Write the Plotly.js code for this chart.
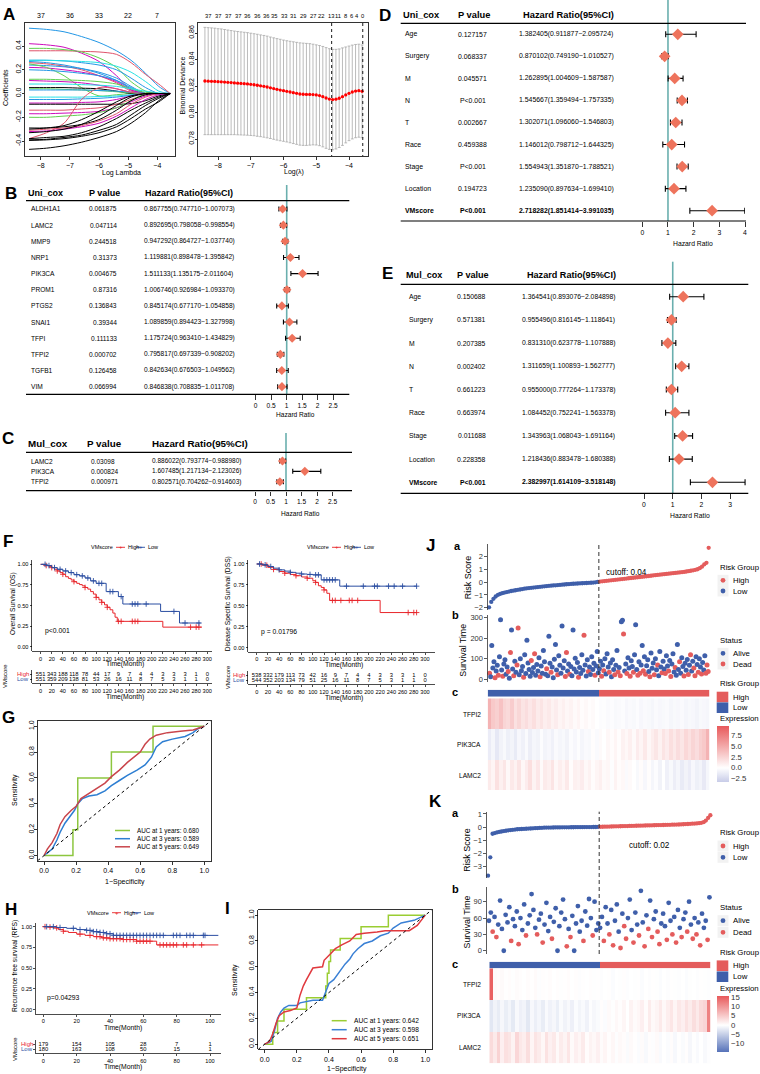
<!DOCTYPE html>
<html><head><meta charset="utf-8">
<script src="https://cdn.plot.ly/plotly-3.0.1.min.js"></script>
<style>html,body{margin:0;padding:0;background:#fff}#chart{width:760px;height:1074px}</style>
</head><body><div id="chart"></div>
<script>
// ================= DATA =================
// A (left): LASSO coefficient paths
const LASSO_LOGLAMBDA = [-8.4,-7.8,-7.2,-6.6,-6.0,-5.4,-4.9,-4.4,-3.95,-3.56];
const LASSO_COEFS = [
 [0.55,0.54,0.52,0.48,0.43,0.36,0.28,0.17,0.06,0],
 [0.36,0.36,0.36,0.355,0.35,0.33,0.26,0.16,0.08,0],
 [0.42,0.41,0.39,0.34,0.27,0.15,0.03,0,0,0],
 [0.38,0.38,0.37,0.35,0.30,0.22,0.10,0.02,0,0],
 [0.28,0.28,0.275,0.26,0.24,0.20,0.13,0.05,0,0],
 [0.28,0.28,0.275,0.27,0.26,0.23,0.18,0.10,0.02,0],
 [0.27,0.26,0.24,0.21,0.17,0.11,0.04,0,0,0],
 [0.26,0.25,0.23,0.20,0.15,0.09,0.02,0,0,0],
 [0.24,0.235,0.225,0.21,0.18,0.13,0.06,0,0,0],
 [0.22,0.215,0.20,0.18,0.15,0.10,0.03,0,0,0],
 [0.25,0.22,0.15,0.05,-0.02,-0.01,0,0,0,0],
 [0.20,0.195,0.185,0.17,0.15,0.11,0.05,0,0,0],
 [0.12,0.12,0.115,0.11,0.10,0.08,0.04,0.01,0,0],
 [0.11,0.105,0.10,0.09,0.07,0.04,0.01,0,0,0],
 [0.08,0.08,0.08,0.075,0.07,0.06,0.04,0.02,0.005,0],
 [0.05,0.05,0.05,0.045,0.04,0.02,0,0,0,0],
 [0.04,0.04,0.035,0.03,0.025,0.015,0.005,0,0,0],
 [0.03,0.03,0.03,0.03,0.025,0.02,0.01,0,0,0],
 [-0.03,-0.03,-0.03,-0.03,-0.025,-0.02,-0.01,0,0,0],
 [-0.05,-0.05,-0.05,-0.045,-0.04,-0.03,-0.015,-0.005,0,0],
 [-0.08,-0.08,-0.08,-0.075,-0.07,-0.05,-0.02,0,0,0],
 [-0.09,-0.09,-0.09,-0.09,-0.09,-0.09,-0.085,-0.06,-0.02,0],
 [-0.14,-0.14,-0.14,-0.13,-0.12,-0.09,-0.05,-0.01,0,0],
 [-0.17,-0.17,-0.165,-0.16,-0.15,-0.12,-0.07,-0.02,0,0],
 [-0.20,-0.20,-0.19,-0.18,-0.16,-0.12,-0.06,0,0,0],
 [-0.38,-0.33,-0.25,-0.05,0.05,0.04,0.01,0,0,0],
 [-0.29,-0.29,-0.28,-0.26,-0.22,-0.14,-0.06,-0.01,0,0],
 [-0.31,-0.30,-0.29,-0.27,-0.23,-0.17,-0.09,-0.03,0,0],
 [-0.32,-0.315,-0.30,-0.28,-0.25,-0.19,-0.12,-0.05,-0.01,0],
 [-0.38,-0.37,-0.36,-0.33,-0.28,-0.21,-0.14,-0.08,-0.03,0],
 [-0.39,-0.385,-0.37,-0.35,-0.31,-0.26,-0.18,-0.10,-0.04,0],
 [-0.395,-0.39,-0.38,-0.36,-0.33,-0.28,-0.21,-0.13,-0.07,0],
 [-0.47,-0.46,-0.44,-0.41,-0.37,-0.32,-0.25,-0.16,-0.06,0],
 [-0.30,-0.29,-0.27,-0.22,-0.15,-0.07,-0.02,0,0,0],
 [-0.33,-0.32,-0.30,-0.26,-0.19,-0.10,-0.03,0,0,0]
];
const LASSO_DF_AT = [-8,-7,-6,-5,-4];
const LASSO_DF_LABELS = ['37','36','33','22','7'];

// A (right): cross-validated binomial deviance
const CV_LOGLAMBDA = [-8.4,-8.3,-8.2,-8.1,-8.0,-7.9,-7.8,-7.7,-7.6,-7.5,-7.4,-7.3,-7.2,-7.1,-7.0,-6.9,-6.8,-6.7,-6.6,-6.5,-6.4,-6.3,-6.2,-6.1,-6.0,-5.9,-5.8,-5.7,-5.6,-5.5,-5.4,-5.3,-5.2,-5.1,-5.0,-4.9,-4.8,-4.7,-4.6,-4.5,-4.4,-4.3,-4.2,-4.1,-4.0,-3.9,-3.8,-3.7,-3.6];
const CV_DEVIANCE = [0.8238,0.8237,0.8236,0.8235,0.8233,0.8232,0.8230,0.8228,0.8226,0.8224,0.8222,0.8220,0.8218,0.8216,0.8213,0.8210,0.8206,0.8202,0.8198,0.8193,0.8187,0.8181,0.8175,0.8170,0.8165,0.8160,0.8155,0.8150,0.8145,0.8140,0.8138,0.8137,0.8137,0.8136,0.8133,0.8128,0.8120,0.8110,0.8102,0.8098,0.8101,0.8108,0.8120,0.8133,0.8145,0.8155,0.8162,0.8165,0.8160];
const CV_SD = [0.0405,0.0404,0.0403,0.0402,0.0400,0.0399,0.0397,0.0395,0.0393,0.0391,0.0390,0.0389,0.0388,0.0387,0.0386,0.0385,0.0385,0.0384,0.0384,0.0384,0.0383,0.0383,0.0383,0.0383,0.0382,0.0382,0.0383,0.0384,0.0385,0.0386,0.0386,0.0385,0.0383,0.0380,0.0378,0.0378,0.0379,0.0380,0.0380,0.0379,0.0376,0.0372,0.0368,0.0362,0.0357,0.0354,0.0352,0.0351,0.0350];
const CV_DF_AT = [-8.3,-8.0,-7.7,-7.4,-7.1,-6.8,-6.55,-6.3,-6.0,-5.7,-5.4,-5.1,-4.85,-4.55,-4.33,-4.12,-3.93,-3.75,-3.58];
const CV_DF_LABELS = ['37','37','37','37','36','36','36','35','33','31','29','27','22','13','11','8','6','4','0'];
const CV_LAMBDA_MIN = -4.53, CV_LAMBDA_1SE = -3.58;

// B: univariate Cox (genes)
const B_NAMES = ['ALDH1A1','LAMC2','MMP9','NRP1','PIK3CA','PROM1','PTGS2','SNAI1','TFPI','TFPI2','TGFB1','VIM'];
const B_P = ['0.061875','0.047114','0.244518','0.31373','0.004675','0.87316','0.136843','0.39344','0.111133','0.000702','0.126458','0.066994'];
const B_HR = [0.867755,0.892695,0.947292,1.119881,1.511133,1.006746,0.845174,1.089859,1.175724,0.795817,0.842634,0.846838];
const B_LO = [0.747710,0.798058,0.864727,0.898478,1.135175,0.926984,0.677170,0.894423,0.963410,0.697339,0.676503,0.708835];
const B_HI = [1.007073,0.998554,1.037740,1.395842,2.011604,1.093370,1.054858,1.327998,1.434829,0.908202,1.049562,1.011708];
// C: multivariate Cox (genes)
const C_NAMES = ['LAMC2','PIK3CA','TFPI2'];
const C_P = ['0.03098','0.000824','0.000971'];
const C_HR = [0.886022,1.607485,0.802571];
const C_LO = [0.793774,1.217134,0.704262];
const C_HI = [0.988980,2.123026,0.914603];
// D: univariate Cox (clinical)
const D_NAMES = ['Age','Surgery','M','N','T','Race','Stage','Location','VMscore'];
const D_P = ['0.127157','0.068337','0.045571','P<0.001','0.002667','0.459388','P<0.001','0.194723','P<0.001'];
const D_HR = [1.382405,0.870102,1.262895,1.545667,1.302071,1.146012,1.554943,1.235090,2.718282];
const D_LO = [0.911877,0.749190,1.004609,1.359494,1.096060,0.798712,1.351870,0.897634,1.851414];
const D_HI = [2.095724,1.010527,1.587587,1.757335,1.546803,1.644325,1.788521,1.699410,3.991035];
// E: multivariate Cox (clinical)
const E_NAMES = ['Age','Surgery','M','N','T','Race','Stage','Location','VMscore'];
const E_P = ['0.150688','0.571381','0.207385','0.002402','0.661223','0.663974','0.011688','0.228358','P<0.001'];
const E_HR = [1.364541,0.955496,0.831310,1.311659,0.955000,1.084452,1.343963,1.218436,2.382997];
const E_LO = [0.893076,0.816145,0.623778,1.100893,0.777264,0.752241,1.068043,0.883478,1.614109];
const E_HI = [2.084898,1.118641,1.107888,1.562777,1.173378,1.563378,1.691164,1.680388,3.518148];

// F: Kaplan-Meier OS and DSS
const RISK_TIMES_F = [0,20,40,60,80,100,120,140,160,180,200,220,240,260,280,300];
const OS_HIGH_T = [0,5,10,15,20,25,30,35,40,45,50,55,60,65,70,75,80,85,90,95,100,105,110,115,120,125,130,134,138,220,290];
const OS_HIGH_S = [1,0.995,0.985,0.975,0.96,0.94,0.92,0.90,0.88,0.85,0.83,0.81,0.79,0.77,0.755,0.74,0.72,0.70,0.67,0.64,0.60,0.57,0.54,0.51,0.48,0.45,0.41,0.36,0.31,0.24,0.24];
const OS_LOW_T = [0,10,20,30,40,50,60,70,80,90,100,115,118,135,140,148,216,250,288];
const OS_LOW_S = [1,0.985,0.96,0.94,0.92,0.90,0.875,0.86,0.835,0.80,0.77,0.77,0.67,0.67,0.61,0.52,0.43,0.29,0.29];
const OS_HIGH_CENSOR = [10,20,30,40,60,80,100,110,120,140,145,165,170,175,270,280,285];
const OS_LOW_CENSOR = [8,15,25,35,45,55,65,75,85,95,105,110,125,130,145,165,170,175,190,240,260,285];
const OS_RISK_HIGH = [551,343,188,118,78,44,17,9,7,4,4,3,3,3,1,0];
const OS_RISK_LOW = [551,359,209,138,81,53,26,16,11,8,7,5,3,1,1,0];
const DSS_HIGH_T = [0,10,20,30,40,50,60,70,80,90,100,105,110,115,120,125,130,220,285];
const DSS_HIGH_S = [1,0.985,0.96,0.935,0.91,0.89,0.875,0.86,0.845,0.83,0.80,0.78,0.74,0.72,0.69,0.65,0.565,0.42,0.42];
const DSS_LOW_T = [0,10,20,30,40,50,60,70,80,90,100,115,148,285];
const DSS_LOW_S = [1,0.99,0.97,0.95,0.93,0.915,0.90,0.89,0.88,0.875,0.87,0.81,0.735,0.735];
const DSS_HIGH_CENSOR = [8,18,30,50,70,90,105,120,135,140,150,165,170,180,270,280,285];
const DSS_LOW_CENSOR = [5,15,25,40,60,80,95,105,110,120,125,130,135,140,160,190,210,215,235,245,260,285];
const DSS_RISK_HIGH = [538,332,179,113,73,42,16,9,7,4,4,3,3,3,1,0];
const DSS_RISK_LOW = [544,352,203,134,79,51,25,16,11,8,7,5,3,1,1,0];

// G: time-dependent ROC
const G_1Y_FPR = [0,0.18,0.18,0.21,0.21,0.42,0.42,0.68,0.68,1];
const G_1Y_TPR = [0,0,0.2,0.2,0.6,0.6,0.8,0.8,1,1];
const G_3Y_FPR = [0,0.02,0.05,0.08,0.10,0.13,0.16,0.19,0.21,0.24,0.28,0.33,0.38,0.42,0.47,0.52,0.58,0.63,0.67,0.70,0.74,0.80,0.88,0.93,0.96,1];
const G_3Y_TPR = [0,0.02,0.05,0.12,0.18,0.25,0.30,0.35,0.40,0.44,0.46,0.47,0.50,0.54,0.58,0.62,0.66,0.70,0.76,0.84,0.88,0.90,0.92,0.95,0.98,1];
const G_5Y_FPR = [0,0.02,0.05,0.08,0.10,0.13,0.17,0.20,0.23,0.28,0.33,0.38,0.42,0.47,0.52,0.57,0.60,0.63,0.66,0.70,0.77,0.85,0.93,1];
const G_5Y_TPR = [0,0.05,0.10,0.17,0.24,0.30,0.35,0.38,0.44,0.48,0.52,0.56,0.61,0.66,0.72,0.77,0.80,0.86,0.90,0.93,0.95,0.96,0.97,1];
const G_AUC = ['AUC at 1 years: 0.680','AUC at 3 years: 0.589','AUC at 5 years: 0.649'];

// H: Kaplan-Meier RFS
const RISK_TIMES_H = [0,20,40,60,80,100];
const RFS_HIGH_T = [0,3,6,9,12,15,20,25,30,35,40,48,56,68,105];
const RFS_HIGH_S = [1,0.995,0.985,0.965,0.945,0.93,0.91,0.895,0.88,0.865,0.855,0.845,0.825,0.78,0.78];
const RFS_LOW_T = [0,8,14,20,26,30,34,38,42,105];
const RFS_LOW_S = [1,0.99,0.98,0.965,0.955,0.94,0.93,0.915,0.895,0.895];
const RFS_HIGH_CENSOR = [1,4,8,12,22,28,32,34,36,38,40,42,44,46,48,50,52,54,56,58,60,62,64,70,72,74,76,78,80,84,86,90,95];
const RFS_LOW_CENSOR = [2,6,10,18,22,26,28,30,32,34,36,38,40,42,44,46,48,50,52,54,56,58,60,62,64,66,68,70,72,78,80,82,86,88,90,96,97];
const RFS_RISK_HIGH = [179,154,105,28,7,1];
const RFS_RISK_LOW = [180,163,108,50,15,1];

// I: time-dependent ROC (validation)
const I_1Y_FPR = [0,0.05,0.05,0.08,0.08,0.12,0.12,0.26,0.26,0.38,0.38,0.39,0.39,0.40,0.40,0.41,0.41,0.47,0.47,0.60,0.60,0.77,0.77,1];
const I_1Y_TPR = [0,0,0.09,0.09,0.18,0.18,0.27,0.27,0.36,0.36,0.45,0.45,0.55,0.55,0.64,0.64,0.73,0.73,0.82,0.82,0.91,0.91,1,1];
const I_3Y_FPR = [0,0.04,0.06,0.08,0.10,0.12,0.15,0.20,0.22,0.30,0.36,0.38,0.40,0.43,0.46,0.48,0.50,0.53,0.55,0.58,0.62,0.67,0.72,0.77,0.80,0.85,0.93,1];
const I_3Y_TPR = [0,0.02,0.10,0.20,0.25,0.28,0.30,0.30,0.32,0.34,0.34,0.40,0.47,0.50,0.55,0.58,0.62,0.66,0.70,0.74,0.78,0.80,0.84,0.86,0.90,0.94,0.96,1];
const I_5Y_FPR = [0,0.03,0.05,0.07,0.09,0.12,0.16,0.20,0.22,0.24,0.26,0.28,0.30,0.36,0.37,0.41,0.44,0.48,0.53,0.57,0.62,0.70,0.75,0.80,0.90,0.95,1];
const I_5Y_TPR = [0,0.02,0.08,0.16,0.22,0.25,0.26,0.28,0.38,0.45,0.50,0.55,0.59,0.60,0.65,0.70,0.74,0.77,0.80,0.85,0.86,0.87,0.88,0.88,0.88,0.92,1];
const I_AUC = ['AUC at 1 years: 0.642','AUC at 3 years: 0.598','AUC at 5 years: 0.651'];

// J: risk score / survival / heatmap (training)
const J_CUTOFF = 0.04;
const J_RISK = [
 -1.97,-1.55,-1.30,-1.12,-1.00,-0.92,-0.86,-0.81,-0.77,-0.73,
 -0.69,-0.66,-0.63,-0.60,-0.57,-0.54,-0.51,-0.48,-0.46,-0.44,
 -0.42,-0.40,-0.38,-0.36,-0.34,-0.32,-0.30,-0.28,-0.27,-0.25,
 -0.24,-0.22,-0.21,-0.19,-0.18,-0.16,-0.15,-0.13,-0.12,-0.11,
 -0.10,-0.09,-0.08,-0.07,-0.06,-0.05,-0.04,-0.03,-0.01,0.02,
 0.05,0.07,0.09,0.11,0.13,0.15,0.17,0.19,0.21,0.23,
 0.25,0.27,0.29,0.31,0.33,0.35,0.37,0.39,0.41,0.43,
 0.45,0.47,0.49,0.51,0.53,0.55,0.57,0.59,0.61,0.63,
 0.65,0.67,0.69,0.71,0.73,0.75,0.77,0.79,0.81,0.84,
 0.87,0.90,0.93,0.97,1.02,1.10,1.22,1.40,1.52,2.70];
const J_TIME = [
 30,12,165,55,85,8,40,68,20,110,290,45,15,75,95,25,60,38,5,130,
 240,50,18,88,35,70,250,22,100,42,62,10,120,28,190,80,48,15,92,33,
 58,125,20,72,40,105,12,65,30,140,85,25,52,18,210,78,35,60,8,98,
 170,45,22,115,68,30,260,55,90,14,130,40,75,25,62,18,240,50,102,36,
 82,10,58,28,120,44,215,70,16,95,38,60,24,110,48,78,20,65,135,32,
 52,88,15,70,42,100,26,125,60,34,80,12,95,48,22,68,140,36,58,18,
 280,288,220,40,75,28,105,55,15,90,62,35,120,265,48,20,85,30,70,165,
 42,110,25,66,95,38,12,128,54,80,22,100,46,70,18,135,60,32,88,50,
 28,115,65,40,92,14,75,125,36,58,20,170,48,85,30,105,62,16,78,44,
 96,24,68,120,40,88,55,18,110,72,34,100,60,26,82,45,115,30,70,38];
const J_STATUS = [
 1,0,0,0,0,1,0,0,1,0,0,0,1,0,0,0,0,1,0,1,
 0,0,1,0,0,1,1,0,0,0,0,1,0,0,0,0,0,0,1,0,
 0,1,0,0,0,0,1,0,0,0,0,0,1,0,0,0,1,0,0,0,
 0,0,1,0,0,0,0,0,0,1,1,0,0,1,0,0,0,0,0,0,
 0,1,0,0,0,0,1,0,0,0,1,0,0,0,0,0,1,0,0,0,
 0,0,1,0,1,0,0,0,0,1,0,0,0,0,1,0,0,1,0,1,
 0,0,1,0,0,1,0,0,1,0,0,1,0,0,0,1,0,1,0,0,
 1,0,1,0,0,0,1,0,0,0,1,0,0,1,0,0,0,1,0,0,
 1,0,0,1,0,1,0,0,0,1,0,0,0,1,0,0,0,1,0,0,
 0,1,0,1,0,0,1,1,0,0,1,0,0,1,0,0,0,1,1,1];
const HEAT_GENES = ['TFPI2','PIK3CA','LAMC2'];
const RISK_GROUPS = ['Low','High'];
const J_HM_TFPI2 = [4.5,3.2,2.8,3.6,2.5,2.2,3.0,1.8,2.4,1.6,2.0,1.4,1.9,1.2,1.6,1.0,1.3,0.8,1.1,0.6,0.9,0.5,0.7,0.3,0.6,0.2,0.4,0.1,0.3,0.0,-0.2,-0.1,-0.3,-0.2,-0.4,-0.3,-0.2,-0.5,-0.3,-0.4,-0.2,-0.5,-0.3,-0.4,-0.6,-0.3,-0.5,-0.4,-0.3,-0.6,-0.4,-0.5,-0.3,-0.6,-0.4,-0.5,-0.7,-0.4,-0.5,-0.6];
const J_HM_PIK3CA = [-1.2,-0.6,-1.5,-0.8,-0.4,-1.0,-0.7,-1.3,-0.5,-0.9,-0.3,-1.1,-0.6,-0.8,-0.2,-0.7,-0.5,-0.9,-0.3,-0.6,-0.4,-0.8,-0.2,-0.5,-0.1,-0.6,-0.3,-0.4,0.1,-0.3,0.3,0.0,0.5,0.2,0.6,0.1,0.8,0.4,0.9,0.3,1.1,0.6,1.3,0.5,1.0,1.5,0.8,1.6,1.1,1.9,1.3,2.0,1.5,2.3,1.8,2.5,2.0,2.8,3.2,4.5];
const J_HM_LAMC2 = [1.2,0.6,1.8,0.9,1.5,0.4,1.3,0.8,1.6,0.5,1.1,1.9,0.7,1.4,0.3,1.2,0.9,1.6,0.5,1.0,0.6,1.3,0.2,0.9,0.7,1.1,0.4,0.8,0.2,0.6,0.9,0.3,0.5,-0.1,0.7,0.2,0.4,-0.3,0.3,0.0,-0.4,0.2,-0.5,0.1,-0.6,-0.2,-0.8,0.0,-0.9,-0.4,-1.1,-0.6,-1.3,-0.8,-1.2,-0.5,-1.0,-0.7,-1.4,-0.6];

// K: risk score / survival / heatmap (validation)
const K_CUTOFF = 0.02;
const K_RISK = [
 -3.67,-2.28,-0.50,-0.45,-0.40,-0.36,-0.33,-0.30,-0.27,-0.24,
 -0.22,-0.20,-0.18,-0.16,-0.15,-0.14,-0.13,-0.12,-0.11,-0.10,
 -0.09,-0.08,-0.07,-0.06,-0.05,-0.04,-0.035,-0.03,-0.028,-0.025,
 -0.022,-0.02,-0.018,-0.015,-0.013,-0.011,-0.009,-0.007,-0.005,-0.003,
 -0.001,0.0,0.002,0.004,0.006,0.008,0.010,0.012,0.014,0.016,
 0.025,0.03,0.035,0.04,0.045,0.05,0.055,0.06,0.065,0.07,
 0.075,0.08,0.085,0.09,0.095,0.10,0.105,0.11,0.115,0.12,
 0.125,0.13,0.135,0.14,0.145,0.15,0.155,0.16,0.165,0.17,
 0.175,0.18,0.185,0.19,0.195,0.20,0.21,0.22,0.23,0.24,
 0.25,0.26,0.27,0.28,0.30,0.33,0.38,0.50,0.70,0.90];
const K_TIME = [
 55,70,35,62,25,48,92,40,0,66, 52,80,18,58,45,72,12,60,38,85,
 28,50,65,104,75,42,30,57,68,15, 48,88,36,62,22,53,78,0,45,70,
 94,58,8,40,25,64,0,50,82,35, 55,18,72,46,95,60,28,90,38,50,
 42,62,18,80,50,30,75,10,55,85, 35,5,68,45,22,60,94,38,15,70,
 48,28,110,52,8,65,40,92,25,58, 72,35,12,50,68,45,20,88,55,30,
 62,15,75,42,25,58,70,35,90,48, 22,60,30,52,10,68,42,55,20,98];
const K_STATUS = [
 0,0,1,0,1,0,0,0,0,0, 0,0,1,0,0,0,1,0,0,0,
 1,0,0,0,0,0,1,0,0,1, 0,0,0,0,1,0,0,0,0,0,
 0,0,1,0,1,0,0,0,0,0, 0,1,0,0,0,0,1,0,0,0,
 0,0,1,0,0,1,0,1,0,0, 0,1,0,1,1,0,0,0,1,0,
 0,1,0,0,1,0,1,0,1,0, 0,1,1,0,0,0,1,0,0,1,
 0,1,0,0,1,0,0,1,0,0, 1,0,1,0,1,0,0,0,1,0];
const K_HM_TFPI2 = [15,0.4,0.2,0.5,0.1,0.3,-0.1,0.4,0.2,0.0,0.3,0.1,0.5,-0.2,0.2,0.1,0.3,0.0,0.2,-0.1,0.1,0.3,0.0,0.2,-0.2,0.1,0.0,0.2,-0.1,0.1,-0.2,0.0,0.1,-0.3,0.0,-0.1,0.2,-0.2,0.0,-0.1,0.1,-0.3,0.0,-0.2,0.1,-0.1,-0.3,0.0,-0.2,0.1,-0.1,-0.2,0.0,-0.3,-0.1,0.0,-0.2,0.1,-0.1,-0.2];
const K_HM_PIK3CA = [-2.5,-1.2,-2.0,-0.8,-1.8,-1.0,-2.2,-0.6,-1.5,-1.1,-2.4,-0.7,-1.6,-0.9,-1.9,-0.5,-1.3,-0.8,-1.7,-0.4,-1.2,-0.6,-1.5,-0.3,-1.0,-0.5,-1.3,-0.2,-0.8,-0.4,0.2,-0.3,0.5,-0.1,0.7,0.2,0.9,0.0,1.2,0.4,0.8,1.5,0.3,1.8,0.6,1.1,2.0,0.7,1.6,2.4,1.0,2.2,1.5,2.8,1.8,3.2,2.0,3.5,4.0,12];
const K_HM_LAMC2 = [3.5,2.0,4.2,1.5,3.0,2.5,1.2,3.8,2.2,1.6,3.2,1.0,2.6,1.9,0.8,2.8,1.4,2.1,0.6,1.8,1.1,2.4,0.5,1.5,0.9,1.9,0.3,1.2,0.7,1.4,0.4,1.0,0.2,0.8,-0.2,0.6,0.3,-0.4,0.5,0.1,-0.3,0.4,-0.6,0.2,-0.2,0.5,-0.5,0.0,-0.3,0.3,-0.7,0.1,-0.4,0.2,-0.8,-0.1,-0.5,0.0,-0.6,-0.2];

// ================= STYLE =================
const W=760,H=1074;
const X=p=>p/W, Y=p=>1-p/H;
const FONT='Liberation Sans, Arial, Helvetica, sans-serif';
const LASSO_PALETTE=['#000000','#DF536B','#61D04F','#2297E6','#28E2E5','#CD0BBC'];
const LASSO_COLOR_IDX=[3,1,5,2,3,4,3,1,3,5,2,3,2,5,4,0,2,3,4,3,5,0,1,5,2,1,0,1,5,0,0,0,0,0,0];
const KM_RED='#E8262B', KM_BLUE='#2B4EA2';
const FOREST_PT='#EE735C', TEAL='#6AAFAE';
const J_RED='#E45C5C', J_BLUE='#3F5FAA';

const layout={width:W,height:H,margin:{l:0,r:0,t:0,b:0},paper_bgcolor:'#fff',plot_bgcolor:'rgba(0,0,0,0)',
  showlegend:false,font:{family:FONT,color:'#000',size:7},annotations:[],shapes:[],hovermode:false};
const traces=[];

function addAxes(n,xpx,ypx,xr,yr,xo,yo){
  const s=n===1?'':String(n);
  layout['xaxis'+s]=Object.assign({domain:[X(xpx[0]),X(xpx[1])],range:xr,anchor:'y'+s,showgrid:false,zeroline:false,fixedrange:true,tickangle:0},xo||{});
  layout['yaxis'+s]=Object.assign({domain:[Y(ypx[1]),Y(ypx[0])],range:yr,anchor:'x'+s,showgrid:false,zeroline:false,fixedrange:true},yo||{});
  return {xa:'x'+s,ya:'y'+s};
}
function T(x,y,text,size,o){
  o=o||{};
  const a={xref:o.xref||'paper',yref:o.yref||'paper',x:o.xref?x:X(x),y:o.yref?y:Y(y),
    text:o.bold?'<b>'+text+'</b>':text,showarrow:false,xanchor:o.xa||'center',yanchor:o.ya||'middle',
    font:{family:FONT,size:size,color:o.color||'#000'},borderpad:0};
  if(o.angle!==undefined)a.textangle=o.angle;
  layout.annotations.push(a);
}
function L(x0,y0,x1,y1,color,width,dash,refs){
  refs=refs||{};
  layout.shapes.push({type:'line',layer:refs.layer||'above',xref:refs.xref||'paper',yref:refs.yref||'paper',
    x0:refs.xref?x0:X(x0),x1:refs.xref?x1:X(x1),y0:refs.yref?y0:Y(y0),y1:refs.yref?y1:Y(y1),
    line:{color:color,width:width,dash:dash||'solid'}});
}
function R(x0,y0,x1,y1,fill){
  layout.shapes.push({type:'rect',xref:'paper',yref:'paper',x0:X(x0),x1:X(x1),y0:Y(y1),y1:Y(y0),fillcolor:fill,line:{width:0}});
}
function C(cx,cy,r,fill){
  layout.shapes.push({type:'circle',xref:'paper',yref:'paper',x0:X(cx-r),x1:X(cx+r),y0:Y(cy+r),y1:Y(cy-r),fillcolor:fill,line:{width:0}});
}
const RBASE=o=>Object.assign({showline:true,mirror:true,linecolor:'#000',linewidth:0.8,ticks:'outside',ticklen:3,tickwidth:0.8,tickcolor:'#000',tickfont:{size:7,family:FONT,color:'#000'}},o);
const RBASEY=o=>RBASE(Object.assign({tickangle:-90,ticklen:2.5,ticklabelstandoff:-2},o));
const GG=o=>Object.assign({showline:true,mirror:false,linecolor:'#000',linewidth:0.7,ticks:'outside',ticklen:2,tickwidth:0.7,tickcolor:'#000',tickfont:{size:5.6,family:FONT,color:'#000'}},o);
const GGJ=o=>Object.assign({showline:true,mirror:false,linecolor:'#333',linewidth:0.8,ticks:'outside',ticklen:2.5,tickwidth:0.8,tickcolor:'#333',tickfont:{size:7.5,family:FONT,color:'#333'}},o);

// ================= PANEL LETTERS =================
[['A',8.5,14],['B',10.5,193],['C',7.5,438],['D',385,15],['E',387.5,273.3],['F',8,541],['J',430,545],
 ['G',8,717],['H',11,909],['I',227,908],['K',435.7,801.7]].forEach(l=>T(l[1],l[2],l[0],17,{bold:true}));

// ================= A left =================
const aL=addAxes(1,[25,175],[23,156],[-8.539,-3.393],[-0.526,0.594],
  RBASE({tickvals:[-8,-7,-6,-5,-4]}),
  RBASEY({tickvals:[-0.4,-0.2,0,0.2,0.4],ticktext:['-0.4','-0.2','0.0','0.2','0.4']}));
LASSO_COEFS.forEach((v,i)=>traces.push({type:'scatter',mode:'lines',xaxis:aL.xa,yaxis:aL.ya,x:LASSO_LOGLAMBDA,y:v,
  line:{color:LASSO_PALETTE[LASSO_COLOR_IDX[i]],width:1,shape:'spline',smoothing:0.8},hoverinfo:'skip'}));
LASSO_DF_AT.forEach((t,i)=>T(t,16,LASSO_DF_LABELS[i],7,{xref:'x'}));
T(5,88,'Coefficients',7,{angle:-90});
T(121,173.5,'Log Lambda',7);

// ================= A right =================
const aR=addAxes(2,[198,368],[23,156],[-8.611,-3.42],[0.7672,0.8676],
  RBASE({tickvals:[-8,-7,-6,-5,-4]}),
  RBASEY({tickvals:[0.78,0.80,0.82,0.84,0.86],ticktext:['0.78','0.80','0.82','0.84','0.86']}));
traces.push({type:'scatter',mode:'markers',xaxis:aR.xa,yaxis:aR.ya,x:CV_LOGLAMBDA,y:CV_DEVIANCE,
  marker:{color:'#FF0000',size:3.3},error_y:{type:'data',array:CV_SD,color:'#A9A9A9',thickness:0.8,width:1.4},hoverinfo:'skip'});
L(CV_LAMBDA_MIN,23,CV_LAMBDA_MIN,156,'#000',0.9,'dot',{xref:'x2'});
L(CV_LAMBDA_1SE,23,CV_LAMBDA_1SE,156,'#000',0.9,'dot',{xref:'x2'});
CV_DF_AT.forEach((t,i)=>T(t,16,CV_DF_LABELS[i],5.8,{xref:'x2'}));
T(182.5,86,'Binomial Deviance',7,{angle:-90});
T(294,172.5,'Log(λ)',7);

// ================= Forest plots =================
const fmt=v=>v.toFixed(6);
function forest(n,d,c){
  const yr=[(c.b-c.r0)/c.s,(c.t-c.r0)/c.s];
  const ax=addAxes(n,c.xpx,[c.t,c.b],c.xr,yr,
    {tickvals:c.ticks,ticktext:c.ticks.map(String),ticks:'outside',ticklen:4.5,tickwidth:0.8,tickcolor:'#000',showline:false,
     tickfont:{size:c.tick,family:FONT,color:'#000'}},{visible:false});
  layout.shapes.push({type:'line',layer:'below',xref:ax.xa,yref:'paper',x0:1,x1:1,y0:Y(c.b),y1:Y(c.tealTop),line:{color:TEAL,width:1.6}});
  traces.push({type:'scatter',mode:'markers',xaxis:ax.xa,yaxis:ax.ya,x:d.hr,y:d.hr.map((_,i)=>i),
    marker:{symbol:'diamond',size:c.ms,color:FOREST_PT},
    error_x:{type:'data',symmetric:false,array:d.hi.map((h,i)=>h-d.hr[i]),arrayminus:d.lo.map((l,i)=>d.hr[i]-l),color:'#000',thickness:1.1,width:c.cap},
    cliponaxis:false,hoverinfo:'skip'});
  d.names.forEach((nm,i)=>{
    const bold=!!(d.bold&&d.bold[i]);
    T(c.nameX,i,nm,c.row,{yref:ax.ya,xa:'left',bold:bold});
    T(c.pX,i,d.p[i],c.row,{yref:ax.ya,xa:c.pAlign,bold:bold});
    T(c.hrX,i,fmt(d.hr[i])+'('+fmt(d.lo[i])+'−'+fmt(d.hi[i])+')',c.row,{yref:ax.ya,xa:'left',bold:bold});
  });
  T(c.hx[0],c.hy,c.title,c.head,{xa:'left',bold:true});
  T(c.hx[1],c.hy,'P value',c.head,{xa:'left',bold:true});
  T(c.hx[2],c.hy,'Hazard Ratio(95%CI)',c.head,{xa:'left',bold:true});
  L(c.lx[0],c.t,c.lx[1],c.t,'#000',1.2);
  L(c.lx[0],c.b,c.lx[1],c.b,'#000',1.2);
  T(c.htx,c.hty,'Hazard Ratio',c.tick);
}
forest(3,{names:B_NAMES,p:B_P,hr:B_HR,lo:B_LO,hi:B_HI},
  {xpx:[255.7,333.2],xr:[0,2.5],ticks:[0,0.5,1,1.5,2,2.5],r0:209,s:16.15,t:200.7,b:394.3,tealTop:185,
   nameX:30,pX:117.7,pAlign:'right',hrX:143.3,row:6.6,head:9,tick:6.6,hx:[27,88,144],hy:193,title:'Uni_cox',
   lx:[26,349.3],htx:295,hty:415,ms:7,cap:2.5});
forest(4,{names:C_NAMES,p:C_P,hr:C_HR,lo:C_LO,hi:C_HI},
  {xpx:[255,332.5],xr:[0,2.5],ticks:[0,0.5,1,1.5,2,2.5],r0:461,s:10.35,t:452.3,b:490.7,tealTop:433,
   nameX:30,pX:89.5,pAlign:'left',hrX:150.7,row:6.5,head:9.8,tick:6.6,hx:[27.3,86,150.7],hy:443,title:'Mul_cox',
   lx:[26,352],htx:300,hty:513.3,ms:7,cap:2.5});
forest(5,{names:D_NAMES,p:D_P,hr:D_HR,lo:D_LO,hi:D_HI,bold:[0,0,0,0,0,0,0,0,1]},
  {xpx:[642.3,745],xr:[0,4],ticks:[0,1,2,3,4],r0:34.3,s:22.05,t:23.3,b:221,tealTop:0,
   nameX:404,pX:472.7,pAlign:'center',hrX:517.7,row:6.9,head:9.3,tick:6.8,hx:[401.7,457.3,521.7],hy:15,title:'Uni_cox',
   lx:[400.7,746],htx:693.3,hty:243.3,ms:9,cap:3});
forest(6,{names:E_NAMES,p:E_P,hr:E_HR,lo:E_LO,hi:E_HI,bold:[0,0,0,0,0,0,0,0,1]},
  {xpx:[644,748],xr:[0,3.62],ticks:[0,1,2,3],r0:296.7,s:23.2,t:284.3,b:493.3,tealTop:261.7,
   nameX:408.3,pX:487.3,pAlign:'right',hrX:520.7,row:6.8,head:9.1,tick:6.8,hx:[405,456,526],hy:275,title:'Mul_cox',
   lx:[400.7,748.3],htx:690,hty:515,ms:9,cap:3});

// ================= KM helpers =================
function survAt(ts,ss,t){let v=ss[0];for(let i=0;i<ts.length;i++){if(ts[i]<=t)v=ss[i];}return v;}
function kmCurves(ax,hT,hS,lT,lS,hC,lC){
  [[hT,hS,hC,KM_RED],[lT,lS,lC,KM_BLUE]].forEach(g=>{
    traces.push({type:'scatter',mode:'lines',xaxis:ax.xa,yaxis:ax.ya,x:g[0],y:g[1],line:{color:g[3],width:1,shape:'hv'},hoverinfo:'skip'});
    traces.push({type:'scatter',mode:'markers',xaxis:ax.xa,yaxis:ax.ya,x:g[2],y:g[2].map(t=>survAt(g[0],g[1],t)),
      marker:{symbol:'cross-thin',size:4,line:{width:0.9,color:g[3]}},hoverinfo:'skip'});
  });
}
function riskTable(ax,times,hi,lo){
  traces.push({type:'scatter',mode:'text',xaxis:ax.xa,yaxis:ax.ya,x:times,y:times.map(()=>1),text:hi.map(String),textfont:{size:5.8,family:FONT,color:'#000'},hoverinfo:'skip',cliponaxis:false});
  traces.push({type:'scatter',mode:'text',xaxis:ax.xa,yaxis:ax.ya,x:times,y:times.map(()=>0),text:lo.map(String),textfont:{size:5.8,family:FONT,color:'#000'},hoverinfo:'skip',cliponaxis:false});
}
function kmLegend(x0,y){
  T(x0,y,'VMscore',5.5,{xa:'right'});
  L(x0+2,y,x0+11,y,KM_RED,0.9); T(x0+6.5,y,'+',6,{color:KM_RED});
  T(x0+13,y,'High',5.5,{xa:'left'});
  L(x0+22,y,x0+31,y,KM_BLUE,0.9); T(x0+26.5,y,'+',6,{color:KM_BLUE});
  T(x0+33,y,'Low',5.5,{xa:'left'});
}
const yKM=GG({tickvals:[0,0.25,0.5,0.75,1],ticktext:['0.00','0.25','0.50','0.75','1.00']});

// ================= F: OS =================
const fOS=addAxes(7,[32.3,211.7],[560.2,651.1],[-15,308],[-0.05,1.05],GG({tickvals:RISK_TIMES_F}),yKM);
kmCurves(fOS,OS_HIGH_T,OS_HIGH_S,OS_LOW_T,OS_LOW_S,OS_HIGH_CENSOR,OS_LOW_CENSOR);
const fOSt=addAxes(8,[32.3,211.7],[670,683.3],[-15,308],[-0.8,1.86],GG({tickvals:RISK_TIMES_F}),GG({tickvals:[0,1],showticklabels:false}));
riskTable(fOSt,RISK_TIMES_F,OS_RISK_HIGH,OS_RISK_LOW);
kmLegend(114,547.3);
T(13,604,'Overall Survival (OS)',6.7,{angle:-90});
T(125,663.8,'Time(Month)',6.8);
T(44,631,'p<0.001',6.8,{xa:'left'});
T(5,676,'VMscore',6,{angle:-90});
T(29.8,674.3,'High',6,{xa:'right',color:KM_RED});
T(29.8,679.3,'Low',6,{xa:'right',color:KM_BLUE});
T(125,697.2,'Time(Month)',6.8);

// ================= F: DSS =================
const fDSS=addAxes(9,[248.3,435],[559.8,651.9],[-15,317.8],[-0.05,1.05],GG({tickvals:RISK_TIMES_F}),yKM);
kmCurves(fDSS,DSS_HIGH_T,DSS_HIGH_S,DSS_LOW_T,DSS_LOW_S,DSS_HIGH_CENSOR,DSS_LOW_CENSOR);
const fDSSt=addAxes(10,[248.3,435],[671,684.3],[-15,317.8],[-0.8,1.86],GG({tickvals:RISK_TIMES_F}),GG({tickvals:[0,1],showticklabels:false}));
riskTable(fDSSt,RISK_TIMES_F,DSS_RISK_HIGH,DSS_RISK_LOW);
kmLegend(330,547.3);
T(228.3,604,'Disease Specific Survival (DSS)',6.7,{angle:-90});
T(344,664.5,'Time(Month)',6.8);
T(260,631.7,'p = 0.01796',6.8,{xa:'left'});
T(228.3,677,'VMscore',6,{angle:-90});
T(245.8,675.3,'High',6,{xa:'right',color:KM_RED});
T(245.8,680.3,'Low',6,{xa:'right',color:KM_BLUE});
T(344,698.2,'Time(Month)',6.8);

// ================= G: ROC =================
function rocPanel(n,xpx,ypx,curves,labels,leg){
  const tv=[0,0.2,0.4,0.6,0.8,1], tt=['0.0','0.2','0.4','0.6','0.8','1.0'];
  const ax=addAxes(n,xpx,ypx,[-0.04,1.04],[-0.04,1.04],RBASE({tickvals:tv,ticktext:tt}),RBASEY({tickvals:tv,ticktext:tt}));
  layout.shapes.push({type:'line',xref:ax.xa,yref:ax.ya,x0:-0.04,y0:-0.04,x1:1.04,y1:1.04,line:{color:'#000',width:1,dash:'3px,3px'}});
  curves.forEach(cv=>traces.push({type:'scatter',mode:'lines',xaxis:ax.xa,yaxis:ax.ya,x:cv[0],y:cv[1],line:{color:cv[2],width:1.5},hoverinfo:'skip'}));
  labels.forEach((lb,i)=>{L(leg.x0,leg.y[i],leg.x1,leg.y[i],curves[i][2],1.5);T(leg.tx,leg.y[i],lb,leg.size,{xa:'left'});});
  return ax;
}
rocPanel(11,[37.7,210.7],[721,860.7],
  [[G_1Y_FPR,G_1Y_TPR,'#8DC63F'],[G_3Y_FPR,G_3Y_TPR,'#2D7ED2'],[G_5Y_FPR,G_5Y_TPR,'#C9454B']],G_AUC,
  {x0:115,x1:130,tx:136,y:[830.5,838.7,846.8],size:6.3});
T(15,790,'Sensitivity',7,{angle:-90});
T(125,881.7,'1−Specificity',7);

// ================= H: RFS =================
const hK=addAxes(12,[36,221],[922.5,1013.9],[-4.4,106.6],[-0.05,1.05],GG({tickvals:RISK_TIMES_H}),yKM);
kmCurves(hK,RFS_HIGH_T,RFS_HIGH_S,RFS_LOW_T,RFS_LOW_S,RFS_HIGH_CENSOR,RFS_LOW_CENSOR);
const hKt=addAxes(13,[36,221],[1040,1053.3],[-4.4,106.6],[-0.8,1.86],GG({tickvals:RISK_TIMES_H}),GG({tickvals:[0,1],showticklabels:false}));
riskTable(hKt,RISK_TIMES_H,RFS_RISK_HIGH,RFS_RISK_LOW);
kmLegend(110,912.7);
T(15,966,'Recurrence free survival (RFS)',6.7,{angle:-90});
T(46,997.7,'p=0.04293',6.8,{xa:'left'});
T(123,1028,'Time(Month)',6.8);
T(15,1049,'VMscore',6,{angle:-90});
T(33.5,1044.3,'High',6,{xa:'right',color:KM_RED});
T(33.5,1049.3,'Low',6,{xa:'right',color:KM_BLUE});
T(123,1067,'Time(Month)',6.8);

// ================= I: ROC =================
rocPanel(14,[258.3,431.7],[910,1049.3],
  [[I_1Y_FPR,I_1Y_TPR,'#9ACD32'],[I_3Y_FPR,I_3Y_TPR,'#3A80D5'],[I_5Y_FPR,I_5Y_TPR,'#E0393E']],I_AUC,
  {x0:331.7,x1:346.7,tx:352.7,y:[1020.7,1029.7,1038.7],size:6.6});
T(235,980,'Sensitivity',7,{angle:-90});
T(346.7,1068.5,'1−Specificity',7);

// ================= J / K risk panels =================
function riskPanel(base,risk,cutoff,time,status,hm,cfg){
  const nLow=risk.filter(v=>v<cutoff).length;
  const a=addAxes(base,cfg.xpx,cfg.aY,[-0.6,risk.length-0.4],cfg.aR,{visible:false},GGJ({tickvals:cfg.aT}));
  traces.push({type:'scatter',mode:'markers',xaxis:a.xa,yaxis:a.ya,y:risk,
    marker:{size:4.3,color:risk.map(v=>v>=cutoff?J_RED:J_BLUE)},hoverinfo:'skip',cliponaxis:false});
  const padB=time.length/100*0.6;
  const b=addAxes(base+1,cfg.xpx,cfg.bY,[-0.5-padB,time.length-0.5+padB],cfg.bR,{visible:false},GGJ({tickvals:cfg.bT}));
  traces.push({type:'scatter',mode:'markers',xaxis:b.xa,yaxis:b.ya,y:time,
    marker:{size:cfg.bSize,color:status.map(s=>s===1?J_RED:J_BLUE)},hoverinfo:'skip',cliponaxis:false});
  layout.shapes.push({type:'line',xref:a.xa,yref:'paper',x0:nLow-0.5,x1:nLow-0.5,y0:Y(cfg.bY[1]),y1:Y(cfg.aY[0]),line:{color:'#333',width:1,dash:'4px,3px'}});
  const bar=addAxes(base+2,cfg.hX,cfg.barY,[-0.5,1.5],[-0.5,0.5],{visible:false},{visible:false});
  traces.push({type:'heatmap',xaxis:bar.xa,yaxis:bar.ya,z:[RISK_GROUPS.map((g,i)=>i)],x:[0,1],
    colorscale:[[0,J_BLUE],[1,J_RED]],zmin:0,zmax:1,showscale:false,hoverinfo:'skip'});
  const hmAx=addAxes(base+3,cfg.hX,cfg.hY,[-0.5,hm[0].length-0.5],[2.5,-0.5],{visible:false},{visible:false});
  traces.push({type:'heatmap',xaxis:hmAx.xa,yaxis:hmAx.ya,z:hm,colorscale:cfg.cs,zmin:cfg.zr[0],zmax:cfg.zr[1],hoverinfo:'skip',
    colorbar:{x:X(716.7),xanchor:'left',y:Y(cfg.cbTop),yanchor:'top',len:cfg.cbLen,lenmode:'pixels',thickness:11.5,thicknessmode:'pixels',
      outlinewidth:0,tickvals:cfg.cbT,ticktext:cfg.cbTT,ticks:'',tickfont:{size:7.8,family:FONT,color:'#333'},xpad:0,ypad:0}});
  HEAT_GENES.forEach((g,i)=>T(481.7,cfg.rowY[i],g,6.6,{xa:'right'}));
  const lg=cfg.leg;
  T(719.3,lg[0],'Risk Group',7.8,{xa:'left'});
  R(717.5,lg[1]-5.5,728.5,lg[1]+5.5,'#F2F2F2'); C(723,lg[1],2.4,J_RED); T(732.3,lg[1],'High',7.8,{xa:'left'});
  R(717.5,lg[2]-5.5,728.5,lg[2]+5.5,'#F2F2F2'); C(723,lg[2],2.4,J_BLUE); T(732.3,lg[2],'Low',7.8,{xa:'left'});
  T(719.3,lg[3],'Status',7.8,{xa:'left'});
  R(717.5,lg[4]-5.5,728.5,lg[4]+5.5,'#F2F2F2'); C(723,lg[4],2.4,J_BLUE); T(732.3,lg[4],'Alive',7.8,{xa:'left'});
  R(717.5,lg[5]-5.5,728.5,lg[5]+5.5,'#F2F2F2'); C(723,lg[5],2.4,J_RED); T(732.3,lg[5],'Dead',7.8,{xa:'left'});
  T(719.3,lg[6],'Risk Group',7.8,{xa:'left'});
  R(716.7,lg[7]-5.3,728.3,lg[7]+5.3,J_RED); T(732.3,lg[7],'High',7.8,{xa:'left'});
  R(716.7,lg[8]-5.3,728.3,lg[8]+5.3,J_BLUE); T(732.3,lg[8],'Low',7.8,{xa:'left'});
  T(719.3,lg[9],'Expression',7.8,{xa:'left'});
  T(cfg.lab[0][0],cfg.lab[0][1],'a',11,{bold:true});
  T(cfg.lab[1][0],cfg.lab[1][1],'b',11,{bold:true});
  T(cfg.lab[2][0],cfg.lab[2][1],'c',11,{bold:true});
  T(cfg.rsX,cfg.rsY,'Risk Score',9,{angle:-90});
  T(cfg.stX,cfg.stY,'Survival Time',8.8,{angle:-90});
  T(cfg.cut[0],cfg.cut[1],'cutoff: '+cutoff.toFixed(2),8.2,{xa:'left'});
}
riskPanel(15,J_RISK,J_CUTOFF,J_TIME,J_STATUS,[J_HM_TFPI2,J_HM_PIK3CA,J_HM_LAMC2],{
  xpx:[487.7,710],aY:[544,610],aR:[-2.18,3.0],aT:[-2,-1,0,1,2],bY:[615,682],bR:[-13,313],bT:[0,100,200,300],bSize:5,
  hX:[487.7,709.3],barY:[689.7,696.7],hY:[698.3,790],rowY:[714,744.5,775],
  cs:[[0,'#C8CCE8'],[0.251,'#FFFFFF'],[1,'#E8595A']],zr:[-3.3,9.85],cbTop:725.7,cbLen:56,
  cbT:[-2.5,0,2.5,5,7.5],cbTT:['−2.5','0.0','2.5','5.0','7.5'],
  leg:[567.3,580.3,591,640,653.3,664,683.3,697,707.7,718.3],
  lab:[[457.7,545.7],[455,615],[455,691.7]],rsX:468.3,rsY:577,stX:462.7,stY:650,cut:[605,572.3]});
riskPanel(19,K_RISK,K_CUTOFF,K_TIME,K_STATUS,[K_HM_TFPI2,K_HM_PIK3CA,K_HM_LAMC2],{
  xpx:[486.7,711.7],aY:[811.7,878.3],aR:[-3.87,1.17],aT:[-3,-2,-1,0,1],bY:[887,954],bR:[-6,117],bT:[0,30,60,90],bSize:4.8,
  hX:[489.3,710.7],barY:[961.7,968.3],hY:[968.3,1063.3],rowY:[984,1015.8,1047.5],
  cs:[[0,'#5672B9'],[0.479,'#FFFFFF'],[1,'#E8595A']],zr:[-14.6,15.9],cbTop:995.7,cbLen:56,
  cbT:[-10,-5,0,5,10,15],cbTT:['−10','−5','0','5','10','15'],
  leg:[832.3,846,857.3,907.3,920.7,932.3,952.3,965.7,976.7,988.3],
  lab:[[455,813.3],[455,889.3],[455,964]],rsX:466.7,rsY:850,stX:466.7,stY:921.7,cut:[628.3,845]});

Plotly.newPlot('chart',traces,layout,{staticPlot:true,displayModeBar:false});
</script></body></html>
